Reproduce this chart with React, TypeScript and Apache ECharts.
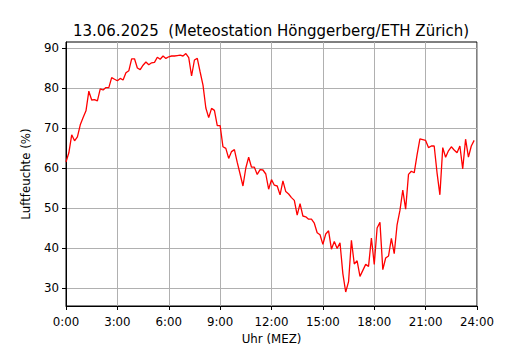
import React, { useEffect, useRef } from "react";
import * as echarts from "echarts";

const titleText = "13.06.2025  (Meteostation Hönggerberg/ETH Zürich)";
const xAxisName = "Uhr (MEZ)";
const yAxisName = "Luftfeuchte (%)";
const xTickValues = [0, 180, 360, 540, 720, 900, 1080, 1260, 1440];
const yTickValues = [30, 40, 50, 60, 70, 80, 90];
const stepMinutes = 10;

// Relative humidity, every 10 minutes from 00:00 to 23:50
const humidity = [
  61.5, 63.8, 68.3, 66.8, 67.8, 70.8, 72.6, 74.3, 79.2, 77.0, 77.1, 76.8,
  79.8, 79.5, 80.1, 80.1, 82.6, 82.2, 81.8, 82.4, 82.0, 83.8, 84.3, 87.3,
  87.3, 85.0, 84.6, 85.7, 86.5, 85.8, 86.3, 86.4, 87.7, 87.2, 88.0, 87.4,
  87.8, 88.0, 88.0, 88.1, 88.2, 88.0, 88.6, 87.6, 83.0, 87.0, 87.4, 84.0,
  80.7, 75.0, 72.6, 74.9, 74.4, 70.6, 70.6, 65.3, 64.9, 62.4, 64.1, 64.6,
  61.4, 58.5, 55.5, 60.0, 62.7, 60.2, 60.2, 58.4, 59.6, 59.5, 58.5, 54.7,
  57.1, 55.7, 55.5, 53.3, 56.8, 54.1, 53.5, 52.6, 51.9, 48.2, 51.1, 48.0,
  47.8, 47.2, 47.2, 46.2, 43.8, 43.3, 40.9, 43.5, 44.3, 39.7, 41.6, 39.9,
  41.3, 33.6, 29.0, 31.6, 41.9, 36.0, 36.8, 32.9, 34.4, 35.9, 35.4, 42.5,
  35.9, 45.0, 46.4, 34.6, 37.5, 38.0, 42.4, 38.6, 45.8, 49.4, 54.5, 49.7,
  58.4, 59.2, 58.8, 63.3, 67.3, 67.1, 66.9, 65.1, 65.5, 65.5, 58.8, 53.3,
  65.1, 62.7, 64.3, 65.3, 64.5, 63.8, 65.5, 59.8, 67.2, 62.7, 65.5, 66.9,
];

const font = "DejaVu Sans";

export default function App() {
  const ref = useRef<HTMLDivElement>(null);
  useEffect(() => {
    if (!ref.current) return;
    const chart = echarts.init(ref.current, null, { renderer: "svg" });
    const data = humidity.map((v, i) => [i * stepMinutes, v]);
    const fmt = (m: number) => `${Math.floor(m / 60)}:${String(m % 60).padStart(2, "0")}`;
    chart.setOption({
      animation: false,
      backgroundColor: "#ffffff",
      title: {
        text: titleText,
        left: 266,
        textAlign: "center",
        top: 18,
        textStyle: { fontFamily: font, fontSize: 15, fontWeight: "normal", color: "#000" },
      },
      grid: {
        left: 66,
        right: 53,
        top: 42,
        bottom: 37,
        show: true,
        borderColor: "#000",
        borderWidth: 1,
        backgroundColor: "transparent",
      },
      xAxis: {
        type: "value",
        min: 0,
        max: 1440,
        interval: 180,
        name: xAxisName,
        nameLocation: "middle",
        nameGap: 27,
        nameTextStyle: { fontFamily: font, fontSize: 11.8, color: "#000" },
        axisLine: { show: true, lineStyle: { color: "#000", width: 1 } },
        axisTick: { show: true, length: 4, lineStyle: { color: "#000" }, customValues: xTickValues },
        axisLabel: {
          fontFamily: font,
          fontSize: 11.8,
          color: "#000",
          margin: 10,
          customValues: xTickValues,
          formatter: (v: number) => fmt(v),
        },
        splitLine: { show: true, lineStyle: { color: "#b0b0b0", width: 1 } },
      },
      yAxis: {
        type: "value",
        min: 25.5,
        max: 91.5,
        name: yAxisName,
        nameLocation: "middle",
        nameGap: 34,
        nameRotate: 90,
        nameTextStyle: { fontFamily: font, fontSize: 11.8, color: "#000" },
        axisLine: { show: true, lineStyle: { color: "#000", width: 1 } },
        axisTick: { show: true, length: 4, lineStyle: { color: "#000" }, customValues: yTickValues },
        axisLabel: {
          fontFamily: font,
          fontSize: 11.8,
          color: "#000",
          margin: 7,
          customValues: yTickValues,
        },
        splitLine: { show: true, lineStyle: { color: "#b0b0b0", width: 1 } },
      },
      series: [
        {
          type: "line",
          data,
          showSymbol: false,
          symbol: "none",
          lineStyle: { color: "#ff0000", width: 1.3 },
          itemStyle: { color: "#ff0000" },
          z: 5,
        },
      ],
    });
    return () => chart.dispose();
  }, []);
  return <div ref={ref} style={{ width: 530, height: 350, position: "absolute", left: 0, top: 0 }} />;
}
